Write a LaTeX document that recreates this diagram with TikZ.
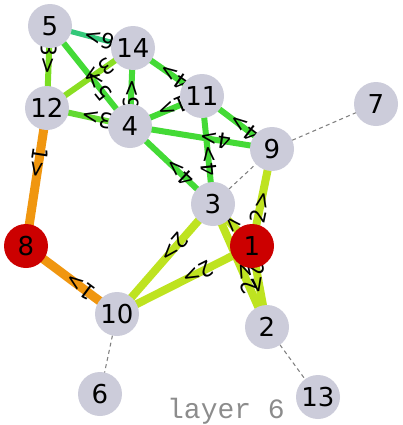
\documentclass[tikz,border=0pt]{standalone}
\usepackage{fontspec}
\setmainfont{DejaVu Sans}
\newfontfamily\layerfont{Liberation Mono}
\usetikzlibrary{backgrounds}
\definecolor{VtxGray}{HTML}{CCCCDA}
\definecolor{VtxRed}{HTML}{CC0000}
\definecolor{EdgeOrange}{HTML}{F0960F}
\definecolor{EdgeLime}{HTML}{BEE320}
\definecolor{EdgeGreen}{HTML}{44DA36}
\definecolor{EdgeTeal}{HTML}{34C87A}
\definecolor{EdgeSpring}{HTML}{7ADD22}
\definecolor{EdgeLeaf}{HTML}{8ADE22}
\definecolor{EdgeMoss}{HTML}{62DA30}
\pgfdeclarelayer{edges}
\pgfdeclarelayer{labels}
\pgfsetlayers{edges,labels,main}

\begin{document}
\begin{tikzpicture}[x=0.75pt,y=-0.75pt,
  vtx/.style={circle,fill=VtxGray,minimum size=33pt,inner sep=0pt,
    font=\fontsize{19.5}{19.5}\selectfont},
  hot/.style={vtx,fill=VtxRed},
  green edge/.style={EdgeGreen,line width=4.5pt},
  teal edge/.style={EdgeTeal,line width=3.8pt},
  spring edge/.style={EdgeSpring,line width=4.5pt},
  leaf edge/.style={EdgeLeaf,line width=4.5pt},
  moss edge/.style={EdgeMoss,line width=4.5pt},
  lime edge/.style={EdgeLime,line width=6pt},
  orange edge/.style={EdgeOrange,line width=6.75pt},
  faint/.style={draw=gray,dashed,dash pattern=on 3pt off 2.5pt,line width=0.8pt},
  wlabel/.style={sloped,allow upside down,pos=0.4,inner sep=0pt,text=black,
    font=\fontsize{16}{16}\selectfont}]
  \useasboundingbox (0,0) rectangle (403,425);

  \node[vtx] (n5) at (50,26) {5};
  \node[vtx] (n14) at (133,48) {14};
  \node[vtx] (n12) at (47,108) {12};
  \node[vtx] (n4) at (130,126) {4};
  \node[vtx] (n11) at (202,96) {11};
  \node[vtx] (n7) at (376,104) {7};
  \node[vtx] (n9) at (272,149) {9};
  \node[vtx] (n3) at (213,204) {3};
  \node[hot] (n1) at (252,246) {1};
  \node[hot] (n8) at (26,246) {8};
  \node[vtx] (n10) at (117,314) {10};
  \node[vtx] (n2) at (267,327) {2};
  \node[vtx] (n6) at (100,394) {6};
  \node[vtx] (n13) at (318,397) {13};

  \begin{pgfonlayer}{edges}
    \draw[faint] (n9.center) -- (n7.center);
    \draw[faint] (n3.center) -- (n9.center);
    \draw[faint] (n10.center) -- (n6.center);
    \draw[faint] (n2.center) -- (n13.center);
  \end{pgfonlayer}

  % weighted links: source/target/weight/style
  \foreach \s/\t/\w/\k in {n14/n5/6/teal edge, n5/n12/3/spring edge,
      n4/n5/5/green edge, n14/n12/3/leaf edge, n4/n14/6/green edge,
      n11/n14/4/green edge, n4/n12/3/moss edge, n11/n4/1/green edge,
      n9/n4/4/green edge, n3/n4/4/green edge, n9/n11/4/green edge,
      n3/n11/4/green edge, n1/n9/2/lime edge, n1/n3/2/lime edge,
      n2/n3/2/lime edge, n1/n2/2/lime edge, n3/n10/2/lime edge,
      n1/n10/2/lime edge, n12/n8/1/orange edge, n10/n8/1/orange edge}{
    \begin{pgfonlayer}{edges}
      \draw[\k] (\s.center) -- (\t.center);
    \end{pgfonlayer}
    \begin{pgfonlayer}{labels}
      \path (\s.center) -- node[wlabel] {\w>} (\t.center);
    \end{pgfonlayer}
  }

  \node[anchor=base,text=gray!90,font=\layerfont\fontsize{21}{21}\selectfont]
    (caption) at (226,418) {layer 6};
\end{tikzpicture}
\end{document}
